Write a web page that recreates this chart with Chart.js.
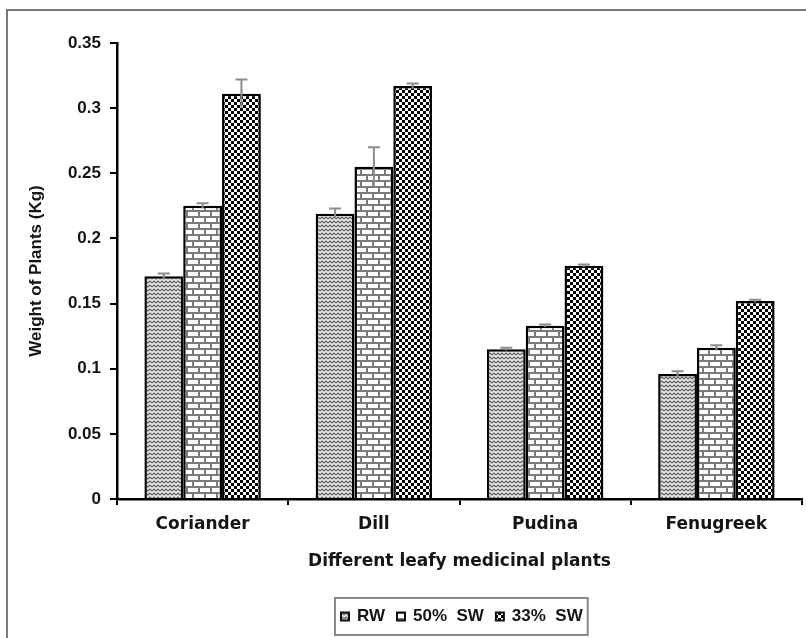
<!DOCTYPE html>
<html>
<head>
<meta charset="utf-8">
<script src="https://cdn.jsdelivr.net/npm/chart.js@4.4.1/dist/chart.umd.min.js"></script>
<style>
  html, body { margin: 0; padding: 0; background: #fff; }
  canvas { display: block; }
</style>
</head>
<body>
<canvas id="chart" width="806" height="638"></canvas>
<script>
const categories = ['Coriander', 'Dill', 'Pudina', 'Fenugreek'];
const seriesNames = ['RW', '50%  SW', '33%  SW'];
const rwValues = [0.171, 0.219, 0.115, 0.096];
const sw50Values = [0.225, 0.255, 0.133, 0.116];
const sw33Values = [0.311, 0.317, 0.179, 0.152];
const rwErrors = [0.002, 0.004, 0.001, 0.002];
const sw50Errors = [0.002, 0.015, 0.001, 0.002];
const sw33Errors = [0.011, 0.002, 0.001, 0.001];
const yTicks = [0, 0.05, 0.1, 0.15, 0.2, 0.25, 0.3, 0.35];

const TEXT = '#151515';

// hatch fills, built on small tiles
function makeTile(w, h, draw) {
  const c = document.createElement('canvas');
  c.width = w; c.height = h;
  const g = c.getContext('2d');
  draw(g);
  return document.getElementById('chart').getContext('2d').createPattern(c, 'repeat');
}

const wavePattern = makeTile(8, 4, g => {
  g.fillStyle = '#e8e8e8';
  g.fillRect(0, 0, 8, 4);
  g.strokeStyle = '#5f5f5f';
  g.lineWidth = 1.2;
  g.beginPath();
  g.moveTo(0, 3); g.lineTo(2, 1); g.lineTo(4, 3); g.lineTo(6, 1); g.lineTo(8, 3);
  g.stroke();
});

const brickPattern = makeTile(12, 12, g => {
  g.fillStyle = '#fff';
  g.fillRect(0, 0, 12, 12);
  g.fillStyle = '#7a7a7a';
  g.fillRect(0, 0, 12, 2);
  g.fillRect(0, 6, 12, 2);
  g.fillRect(0, 2, 2, 4);
  g.fillRect(6, 8, 2, 4);
});

const checkPattern = makeTile(6, 6, g => {
  g.fillStyle = '#fff';
  g.fillRect(0, 0, 6, 6);
  g.fillStyle = '#000';
  g.fillRect(0, 0, 3, 3);
  g.fillRect(3, 3, 3, 3);
});

const fills = [wavePattern, brickPattern, checkPattern];

const framePlugin = {
  id: 'frame',
  beforeDraw(chart) {
    const ctx = chart.ctx;
    ctx.save();
    ctx.fillStyle = '#fff';
    ctx.fillRect(0, 0, chart.width, chart.height);
    ctx.strokeStyle = '#7a7a7a';
    ctx.lineWidth = 2;
    ctx.strokeRect(7, 10, chart.width + 20, chart.height + 20);
    ctx.restore();
  }
};

const errorBarPlugin = {
  id: 'errorBars',
  afterDatasetsDraw(chart) {
    const ctx = chart.ctx;
    const y = chart.scales.y;
    ctx.save();
    ctx.strokeStyle = '#8c8c8c';
    ctx.lineWidth = 2;
    chart.data.datasets.forEach((ds, i) => {
      const meta = chart.getDatasetMeta(i);
      meta.data.forEach((bar, j) => {
        const v = ds.data[j];
        const e = ds.errors[j];
        const top = y.getPixelForValue(v + e);
        const bot = y.getPixelForValue(v - e);
        ctx.beginPath();
        ctx.moveTo(bar.x, top); ctx.lineTo(bar.x, bot);
        ctx.moveTo(bar.x - 6, top); ctx.lineTo(bar.x + 6, top);
        ctx.stroke();
      });
    });
    ctx.restore();
  }
};

const legendBoxPlugin = {
  id: 'legendBox',
  afterDraw(chart) {
    const ctx = chart.ctx;
    ctx.save();
    ctx.font = 'bold 17px "Liberation Sans", Arial, sans-serif';
    ctx.textBaseline = 'middle';
    const icon = 10, iconGap = 7, itemGap = 11, pad = 5;
    const widths = seriesNames.map(n => ctx.measureText(n).width);
    let total = pad * 2;
    widths.forEach((w, i) => { total += icon + iconGap + w + (i < widths.length - 1 ? itemGap : 0); });
    const cx = 461, top = 598, h = 37;
    const left = Math.round(cx - total / 2);
    ctx.strokeStyle = '#888';
    ctx.lineWidth = 2;
    ctx.strokeRect(left, top, total, h);
    let x = left + pad;
    const midY = top + h / 2;
    chart.data.datasets.forEach((ds, i) => {
      ctx.fillStyle = '#111';
      ctx.fillRect(x, midY - icon / 2, icon, icon);
      ctx.fillStyle = ds.backgroundColor;
      ctx.fillRect(x + 2, midY - icon / 2 + 2, icon - 4, icon - 4);
      x += icon + iconGap;
      ctx.fillStyle = TEXT;
      ctx.fillText(ds.label, x, midY);
      x += widths[i] + itemGap;
    });
    ctx.restore();
  }
};

new Chart(document.getElementById('chart'), {
  type: 'bar',
  data: {
    labels: categories,
    datasets: [
      { label: seriesNames[0], data: rwValues, errors: rwErrors, backgroundColor: fills[0] },
      { label: seriesNames[1], data: sw50Values, errors: sw50Errors, backgroundColor: fills[1] },
      { label: seriesNames[2], data: sw33Values, errors: sw33Errors, backgroundColor: fills[2] }
    ].map(ds => Object.assign(ds, {
      borderColor: '#000',
      borderWidth: 2.5,
      barPercentage: 1.0,
      categoryPercentage: 0.68
    }))
  },
  options: {
    responsive: false,
    animation: false,
    layout: { padding: { top: 43, right: 4, bottom: 60, left: 0 } },
    plugins: {
      legend: { display: false },
      tooltip: { enabled: false }
    },
    scales: {
      x: {
        grid: { display: true, drawOnChartArea: false, drawTicks: true, tickLength: 6, color: '#000', lineWidth: 2 },
        border: { display: true, color: '#000', width: 2.5 },
        ticks: {
          color: TEXT,
          padding: 9,
          font: { family: '"DejaVu Sans", Verdana, sans-serif', size: 17, weight: 'bold' }
        },
        title: {
          display: true,
          text: 'Different leafy medicinal plants',
          color: TEXT,
          padding: { top: 0, bottom: 6 },
          font: { family: '"DejaVu Sans", Verdana, sans-serif', size: 17, weight: 'bold' }
        },
        afterFit(scale) { scale.height = 79; }
      },
      y: {
        min: 0,
        max: 0.35,
        afterBuildTicks(scale) { scale.ticks = yTicks.map(v => ({ value: v })); },
        grid: { display: true, drawOnChartArea: false, drawTicks: true, tickLength: 7, color: '#000', lineWidth: 2 },
        border: { display: true, color: '#000', width: 2.5 },
        ticks: {
          color: TEXT,
          padding: 9,
          font: { family: '"Liberation Sans", Arial, sans-serif', size: 17, weight: 'bold' },
          callback: v => String(+Number(v).toFixed(2))
        },
        title: {
          display: true,
          text: 'Weight of Plants (Kg)',
          color: TEXT,
          padding: { top: 26, bottom: 0 },
          font: { family: '"Liberation Sans", Arial, sans-serif', size: 17, weight: 'bold' }
        },
        afterFit(scale) { scale.width = 117; }
      }
    }
  },
  plugins: [framePlugin, errorBarPlugin, legendBoxPlugin]
});
</script>
</body>
</html>
